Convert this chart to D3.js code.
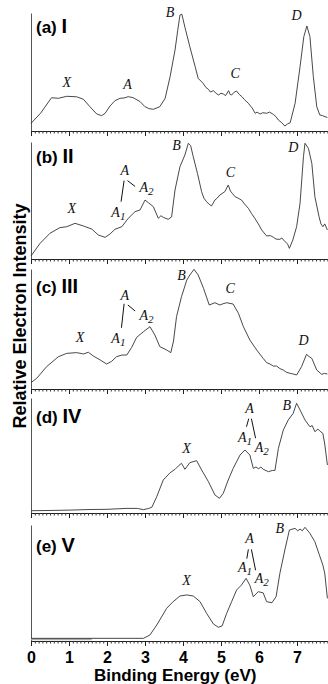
<!DOCTYPE html>
<html><head><meta charset="utf-8">
<script src="https://cdn.jsdelivr.net/npm/d3@7"></script>
<style>body{margin:0;background:#fff}svg{display:block}</style>
</head><body>
<script>
// Binding energy (eV) / intensity pairs per panel, intensity on 0-100 relative scale
const specI = [[0,6.5],[0.25,15],[0.54,28.2],[0.72,27.7],[0.94,29.4],[1.2,29],[1.38,26.9],[1.55,20.6],[1.73,14.4],[1.86,13],[1.95,15],[2.08,21.2],[2.21,25.7],[2.34,27.7],[2.45,28],[2.56,29.1],[2.69,28.2],[2.87,24.9],[3.0,20.6],[3.1,19],[3.22,18.4],[3.39,20.6],[3.53,27.7],[3.66,46],[3.79,68.6],[3.86,85],[3.92,98.3],[3.97,99],[4.05,88],[4.18,71.4],[4.32,54.5],[4.4,44.6],[4.53,40.4],[4.6,37],[4.67,35.3],[4.72,33],[4.8,34.2],[4.87,32],[4.93,30.5],[5.0,32],[5.06,31.4],[5.12,30],[5.2,34.2],[5.24,31],[5.28,30.5],[5.35,33],[5.41,33.9],[5.48,31],[5.55,29.1],[5.62,26.5],[5.72,23.5],[5.78,21],[5.82,19.5],[5.9,15],[5.95,16],[6.03,14.4],[6.1,15.5],[6.2,15],[6.28,16],[6.38,14],[6.45,12],[6.51,9.3],[6.6,7],[6.68,4.2],[6.75,6],[6.82,7],[6.95,23.5],[7.08,54.5],[7.18,80],[7.26,89],[7.34,80],[7.43,46],[7.52,20.6],[7.6,13.6],[7.67,13],[7.74,12.1],[7.8,11.5]];
const specII = [[0,2.6],[0.24,13.4],[0.5,22],[0.76,26.8],[0.94,27.6],[1.16,30.5],[1.38,28.2],[1.6,25.6],[1.77,20.5],[1.95,18.5],[2.08,21.4],[2.21,25.4],[2.39,27.6],[2.56,34.8],[2.74,40.5],[2.87,41.9],[3.0,50.4],[3.09,48.1],[3.22,44.7],[3.35,34.8],[3.42,37],[3.48,35.6],[3.61,33.9],[3.7,36],[3.79,59],[3.92,78.9],[4.05,88.9],[4.14,98.9],[4.2,97],[4.27,87.4],[4.38,73.2],[4.49,57.5],[4.55,52],[4.62,49],[4.68,47],[4.75,45.3],[4.84,50.4],[4.9,52],[4.97,54.7],[5.1,57.5],[5.19,63.2],[5.25,58],[5.3,56],[5.37,53.3],[5.45,52],[5.54,50.4],[5.62,47],[5.72,43.3],[5.8,39],[5.89,34.8],[6.0,29],[6.07,24.8],[6.2,19.7],[6.3,20],[6.38,18.5],[6.45,17],[6.55,16.8],[6.6,18],[6.68,15],[6.75,13],[6.8,9.1],[6.89,16.2],[6.99,27.6],[7.08,47.6],[7.17,87.4],[7.21,98.9],[7.3,94.6],[7.39,81.8],[7.47,53.3],[7.58,36.2],[7.63,30],[7.68,27.6],[7.73,30],[7.8,24.8]];
const specIII = [[0,5.3],[0.15,8.9],[0.41,18.6],[0.72,26.9],[0.94,29.7],[1.2,30.3],[1.38,29.2],[1.51,30.6],[1.64,27.5],[1.82,24.2],[1.99,20.8],[2.12,23],[2.25,26.9],[2.39,28.3],[2.52,28.3],[2.65,34.7],[2.78,43],[2.96,47.8],[3.13,51.9],[3.26,45],[3.39,35.3],[3.57,32.5],[3.68,30.3],[3.75,40],[3.83,60.3],[3.96,76.9],[4.1,90.8],[4.18,95],[4.29,99.7],[4.4,95],[4.54,83.9],[4.69,70],[4.84,71.9],[4.97,70],[5.05,71],[5.15,71.9],[5.32,70.8],[5.46,63],[5.59,51.9],[5.76,40.8],[5.94,32.5],[6.0,30],[6.11,25.5],[6.2,22],[6.29,20.8],[6.38,19],[6.46,19.2],[6.55,17],[6.64,15.8],[6.72,14],[6.82,13],[6.9,12.5],[6.99,11.7],[7.12,18.6],[7.25,28.9],[7.32,27],[7.39,25.5],[7.52,15.8],[7.65,12.2],[7.72,13],[7.8,12.5]];
const specIV = [[0,2],[0.5,2.2],[1.0,2.5],[1.5,3],[2.0,3.2],[2.5,4],[2.8,4],[2.96,2.9],[3.1,4],[3.18,5],[3.31,14.2],[3.48,28.7],[3.66,35],[3.79,38],[3.88,41],[3.96,43.2],[4.05,38],[4.18,43.8],[4.36,45.5],[4.49,37.4],[4.67,27.2],[4.84,15.7],[4.96,12.8],[5.06,17.1],[5.19,28.7],[5.32,38.8],[5.5,50.4],[5.63,54.8],[5.76,50.4],[5.85,38.8],[5.92,40],[5.99,38.5],[6.05,40],[6.11,38],[6.25,35.9],[6.35,37],[6.42,37],[6.51,56.2],[6.64,72.2],[6.77,80.9],[6.9,86.7],[6.99,95.4],[7.08,89.6],[7.21,80.9],[7.34,75],[7.4,76],[7.47,70.7],[7.55,73],[7.61,71],[7.68,69.3],[7.73,60],[7.8,41.7]];
const specV = [[0,2.3],[1.0,2.3],[2.0,2.3],[2.96,2.3],[3.13,5.2],[3.31,13.8],[3.57,28.2],[3.74,33.9],[3.92,38.8],[4.1,39.7],[4.27,38.8],[4.45,33.9],[4.62,23.9],[4.8,14.7],[4.93,11.8],[5.03,13],[5.15,23.9],[5.28,33.9],[5.41,44],[5.54,48.3],[5.66,54],[5.76,48],[5.85,38.2],[5.98,42.5],[6.11,41.5],[6.2,33.9],[6.34,33],[6.45,38.2],[6.55,58.4],[6.68,78.4],[6.8,95.7],[6.95,97.1],[7.02,95],[7.08,96.5],[7.14,95],[7.21,98],[7.34,92.8],[7.47,85.6],[7.59,74.1],[7.68,65.5],[7.73,58.4],[7.8,36.8]];
const baselineV = [[0,1.5],[1.6,1.5]];

const panelTags = ["(a)","(b)","(c)","(d)","(e)"];
const panelNumerals = ["I","II","III","IV","V"];
const tickLabels = [0,1,2,3,4,5,6,7];

// peak annotations: [label, subscript, energy, intensity]
const peaksI = [["X","",0.94,37.5],["A","",2.54,36],["B","",3.66,96.6],["C","",5.37,44.6],["D","",6.99,94]];
const peaksII = [["X","",1.07,39],["A","",2.47,71.8],["A","1",2.3,36.2],["A","2",3.04,57.5],["B","",3.83,93],["C","",5.25,70],["D","",6.9,91.7]];
const peaksIII = [["X","",1.29,39.4],["A","",2.47,74],["A","1",2.3,38],["A","2",3.04,57.5],["B","",3.96,90.8],["C","",5.24,79.7],["D","",7.17,36.7]];
const peaksIV = [["X","",4.09,52],["A","",5.75,87],["A","1",5.63,62],["A","2",6.07,53.3],["B","",6.73,89.6]];
const peaksV = [["X","",4.09,48.3],["A","",5.75,84.2],["A","1",5.63,59.7],["A","2",6.07,49.7],["B","",6.55,93.4]];
// connector lines [e1,v1,e2,v2]
const linksII = [[2.45,67,2.37,49],[2.54,67,2.74,62]];
const linksIII = [[2.45,71,2.38,51],[2.55,70,2.74,65]];
const linksIV = [[5.73,82,5.67,75],[5.8,82,5.91,65]];
const linksV = [[5.72,79,5.68,71],[5.8,79,5.91,61]];

const spectra = [specI,specII,specIII,specIV,specV];
const peaks = [peaksI,peaksII,peaksIII,peaksIV,peaksV];
const links = [[],linksII,linksIII,linksIV,linksV];

// layout
const W=328,H=684;
const tops=[13,142,269,398,525], bottoms=[131,259,389,513,641];
const tagY=[33,163,293,423,552];

const svg=d3.select("body").append("svg").attr("width",W).attr("height",H);
const x=d3.scaleLinear().domain([0,7.8]).range([31,327.4]);
const minorT=d3.range(0,7.81,0.1).map(v=>+v.toFixed(1));

spectra.forEach((data,i)=>{
  const y=d3.scaleLinear().domain([0,100]).range([bottoms[i],tops[i]]);
  const g=svg.append("g");
  g.append("g").attr("transform",`translate(${x(0)},0)`)
    .call(d3.axisLeft(y).tickValues([]).tickSizeOuter(0))
    .call(s=>s.select(".domain").attr("stroke","#555"));
  g.append("g").attr("transform",`translate(0,${bottoms[i]})`)
    .call(d3.axisBottom(x).tickValues(minorT).tickSize(2.5).tickSizeOuter(0).tickFormat(""))
    .call(s=>{s.select(".domain").attr("stroke","#222");s.selectAll(".tick line").attr("stroke","#333");});
  const major=g.append("g").attr("transform",`translate(0,${bottoms[i]})`)
    .call(d3.axisBottom(x).tickValues(tickLabels).tickSize(5).tickSizeOuter(0).tickPadding(6)
      .tickFormat(i===4?d3.format("d"):""));
  major.select(".domain").remove();
  major.selectAll(".tick line").attr("stroke","#222");
  major.selectAll("text").attr("font-family","Arial, 'Liberation Sans', sans-serif")
    .attr("font-weight","bold").attr("font-size",16).attr("fill","#000");

  if(i===4){
    g.append("path").datum(baselineV)
      .attr("d",d3.line().x(d=>x(d[0])).y(d=>y(d[1])))
      .attr("fill","none").attr("stroke","#aaa").attr("stroke-width",2);
  }
  g.append("path").datum(data)
    .attr("d",d3.line().x(d=>x(d[0])).y(d=>y(d[1])))
    .attr("fill","none").attr("stroke","#333").attr("stroke-width",0.9);

  const t=g.append("text").attr("x",36).attr("y",tagY[i])
    .attr("font-family","Arial, 'Liberation Sans', sans-serif").attr("font-weight","bold").attr("fill","#000");
  t.append("tspan").attr("font-size",17).text(panelTags[i]+" ");
  t.append("tspan").attr("font-size",20).text(panelNumerals[i]);

  peaks[i].forEach(p=>{
    const tx=g.append("text").attr("x",x(p[2])).attr("y",y(p[3])).attr("text-anchor","middle")
      .attr("font-family","'Liberation Serif','Times New Roman',serif").attr("font-style","italic")
      .attr("font-size",14).attr("fill","#111");
    tx.append("tspan").text(p[0]);
    if(p[1]) tx.append("tspan").attr("font-size",11).attr("dy",3).text(p[1]);
  });
  links[i].forEach(l=>{
    g.append("line").attr("x1",x(l[0])).attr("y1",y(l[1])).attr("x2",x(l[2])).attr("y2",y(l[3]))
      .attr("stroke","#111").attr("stroke-width",1);
  });
});

svg.append("text").attr("x",(x(0)+x(7.8))/2-4).attr("y",681).attr("text-anchor","middle")
  .attr("font-family","Arial, 'Liberation Sans', sans-serif").attr("font-weight","bold").attr("font-size",17)
  .text("Binding Energy (eV)");
svg.append("text").attr("transform","translate(26,316) rotate(-90)").attr("text-anchor","middle")
  .attr("font-family","Arial, 'Liberation Sans', sans-serif").attr("font-weight","bold").attr("font-size",18)
  .text("Relative Electron Intensity");
</script>
</body></html>
